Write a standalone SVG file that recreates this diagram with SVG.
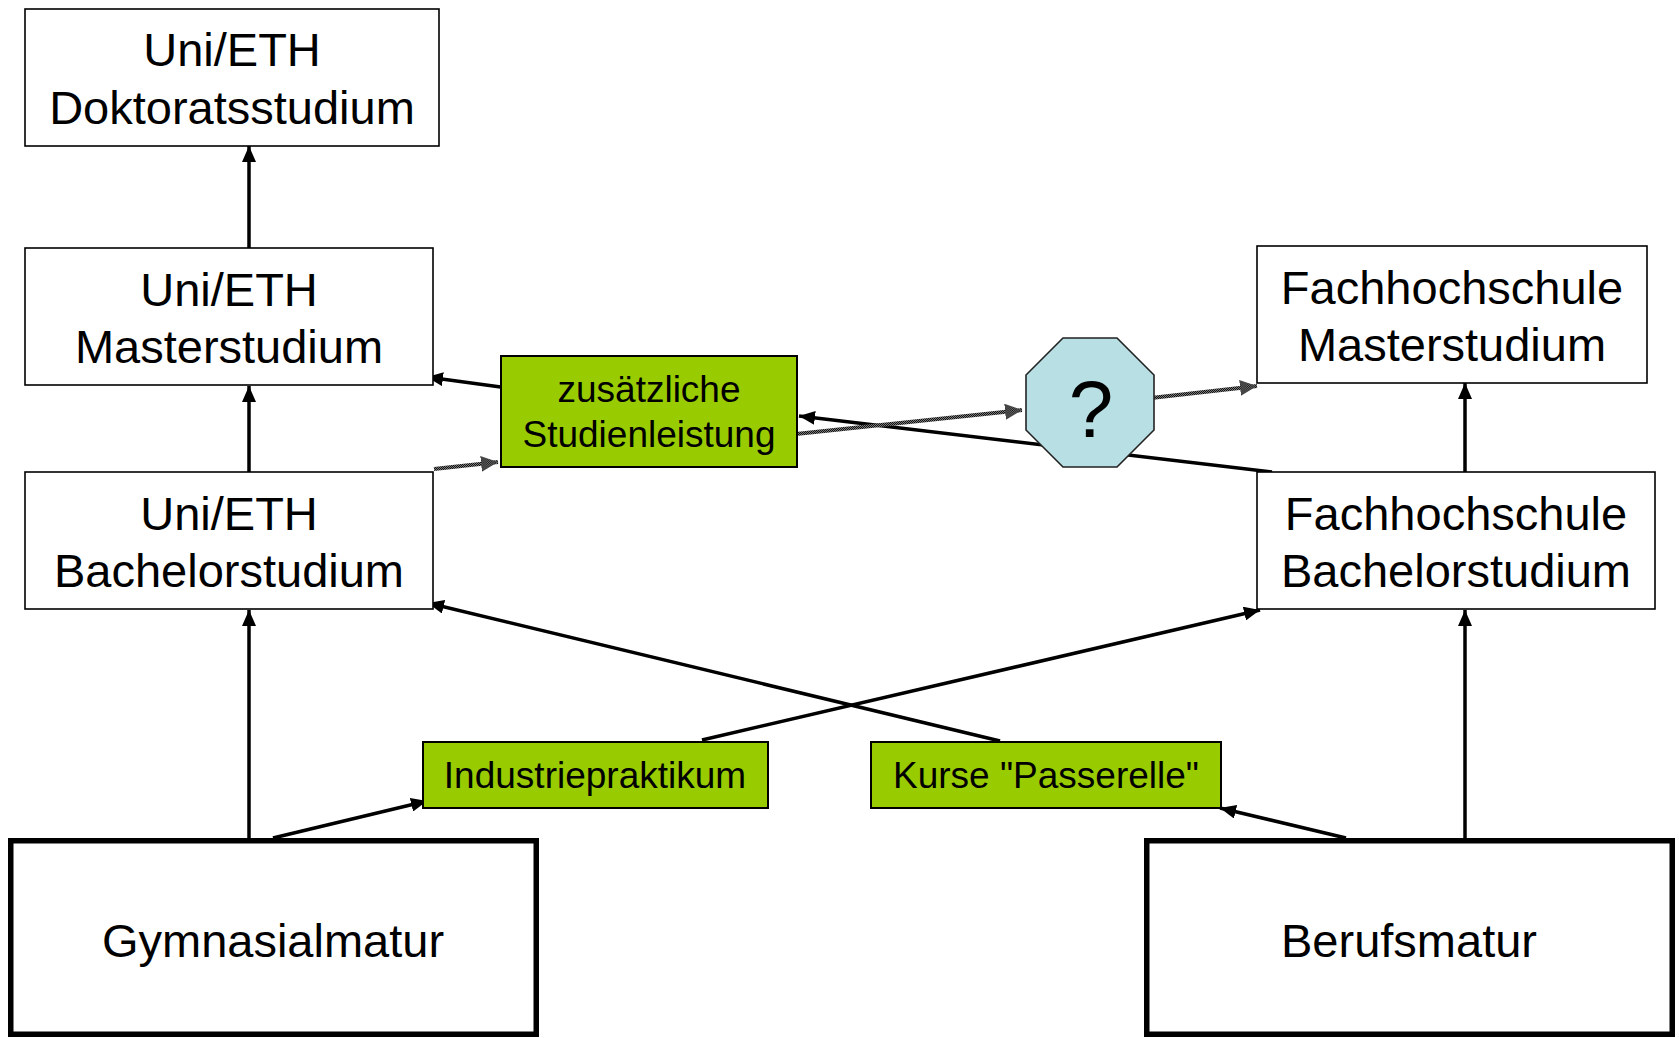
<svg xmlns="http://www.w3.org/2000/svg" width="1679" height="1038" viewBox="0 0 1679 1038">
<style>
  text { font-family: "Liberation Sans", Arial, sans-serif; fill: #000; text-anchor: middle; }
  .big { font-size: 47px; }
  .small { font-size: 37px; }
  .q { font-size: 80px; }
  .box { fill: #fff; stroke: #000; stroke-width: 1.6; }
  .thick { fill: #fff; stroke: #000; stroke-width: 5.5; }
  .green { fill: #99CC00; stroke: #000; stroke-width: 2; }
  .oct { fill: #B8DFE3; stroke: #222; stroke-width: 1.6; }
  .arr { fill: none; stroke: #000; stroke-width: 3.5; marker-end: url(#ah); }
  .gray { fill: none; stroke: url(#hatch); stroke-width: 4; marker-end: url(#ahg); }
</style>
<defs>
  <pattern id="hatch" patternUnits="userSpaceOnUse" width="2" height="2">
    <rect width="2" height="2" fill="#7a7a7a"/>
    <rect width="1" height="1" fill="#111"/>
    <rect x="1" y="1" width="1" height="1" fill="#111"/>
  </pattern>
  <marker id="ah" markerUnits="userSpaceOnUse" markerWidth="17" markerHeight="14" refX="16" refY="7" orient="auto">
    <path d="M0,0 L16,7 L0,14 Z" fill="#000"/>
  </marker>
  <marker id="ahg" markerUnits="userSpaceOnUse" markerWidth="18" markerHeight="16" refX="17" refY="8" orient="auto">
    <path d="M0,0 L17,8 L0,16 Z" fill="url(#hatch)"/>
  </marker>
</defs>
<rect width="1679" height="1038" fill="#fff"/>

<g id="connectors">
  <line class="arr" x1="249" y1="248" x2="249" y2="146"/>
  <line class="arr" x1="249" y1="472" x2="249" y2="386"/>
  <line class="arr" x1="249" y1="839" x2="249" y2="610"/>
  <line class="arr" x1="273" y1="838" x2="427" y2="801"/>
  <line class="arr" x1="702" y1="740" x2="1260" y2="610"/>
  <line class="arr" x1="1000" y1="741" x2="428" y2="603"/>
  <line class="arr" x1="1346" y1="838" x2="1220" y2="808"/>
  <line class="arr" x1="1465" y1="839" x2="1465" y2="610"/>
  <line class="arr" x1="1465" y1="472" x2="1465" y2="383"/>
  <line class="arr" x1="1272" y1="472" x2="799" y2="416"/>
  <line class="arr" x1="508" y1="388" x2="427" y2="377"/>
  <line class="gray" x1="434" y1="469" x2="498" y2="462"/>
  <line class="gray" x1="796" y1="434" x2="1022" y2="410"/>
  <line class="gray" x1="1151" y1="398" x2="1257" y2="386"/>
</g>

<g id="doktorat">
  <rect class="box" x="25" y="9" width="414" height="137"/>
  <text class="big" x="232" y="66">Uni/ETH</text>
  <text class="big" x="232" y="124">Doktoratsstudium</text>
</g>
<g id="uni-master">
  <rect class="box" x="25" y="248" width="408" height="137"/>
  <text class="big" x="229" y="306">Uni/ETH</text>
  <text class="big" x="229" y="363">Masterstudium</text>
</g>
<g id="uni-bachelor">
  <rect class="box" x="25" y="472" width="408" height="137"/>
  <text class="big" x="229" y="530">Uni/ETH</text>
  <text class="big" x="229" y="587">Bachelorstudium</text>
</g>
<g id="fh-master">
  <rect class="box" x="1257" y="246" width="390" height="137"/>
  <text class="big" x="1452" y="304">Fachhochschule</text>
  <text class="big" x="1452" y="361">Masterstudium</text>
</g>
<g id="fh-bachelor">
  <rect class="box" x="1257" y="472" width="398" height="137"/>
  <text class="big" x="1456" y="530">Fachhochschule</text>
  <text class="big" x="1456" y="587">Bachelorstudium</text>
</g>
<g id="zusatz">
  <rect class="green" x="501" y="356" width="296" height="111"/>
  <text class="small" x="649" y="402">zusätzliche</text>
  <text class="small" x="649" y="447">Studienleistung</text>
</g>
<g id="frage">
  <polygon class="oct" points="1063,338 1117,338 1154,375 1154,430 1117,467 1063,467 1026,430 1026,375"/>
  <text class="q" x="1091" y="437">?</text>
</g>
<g id="industrie">
  <rect class="green" x="423" y="742" width="345" height="66"/>
  <text class="small" x="595" y="788">Industriepraktikum</text>
</g>
<g id="passerelle">
  <rect class="green" x="871" y="742" width="350" height="66"/>
  <text class="small" x="1046" y="788">Kurse "Passerelle"</text>
</g>
<g id="gymnasial">
  <rect class="thick" x="10.75" y="840.75" width="525.5" height="193.5"/>
  <text class="big" x="273" y="957">Gymnasialmatur</text>
</g>
<g id="berufs">
  <rect class="thick" x="1146.75" y="840.75" width="525.5" height="193.5"/>
  <text class="big" x="1409" y="957">Berufsmatur</text>
</g>
</svg>
